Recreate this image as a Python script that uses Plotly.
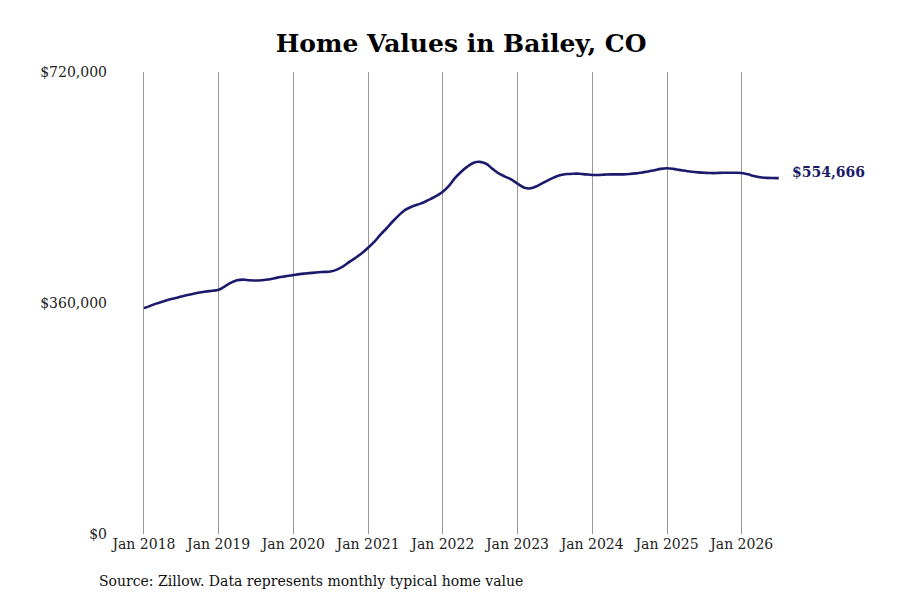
import pandas as pd
import plotly.graph_objects as go

# monthly typical home value, Bailey CO
months = pd.date_range("2018-01-01", "2026-07-01", freq="MS")
values = [
    352000, 355500, 359000, 362000, 365000, 367500, 370000, 372500, 374500, 376500, 378000, 379000,
    380500, 386000, 391500, 395500, 396500, 395500, 395000, 395500, 396500, 398500, 400500, 402000,
    403500, 405000, 406000, 407000, 408000, 408500, 409000, 412000, 417000, 424000, 430500, 437500,
    446000, 455500, 466000, 476500, 487000, 497000, 505000, 510000, 513500, 517000, 522000, 527000,
    533500, 543000, 554500, 564500, 572500, 578500, 580000, 577000, 569000, 562000, 557000, 552500,
    546000, 540000, 538500, 541500, 546500, 551500, 556000, 559500, 561000, 561500, 561500, 560500,
    559500, 559500, 560000, 560500, 560500, 560500, 561000, 562000, 563500, 565000, 567000, 569000,
    570000, 569000, 567500, 566000, 564500, 563500, 563000, 562500, 562500, 563000, 563000, 563000,
    562500, 560500, 558000, 556000, 555000, 554700, 554666,
]
ytick_vals = [0, 360000, 720000]
ytick_text = ["$0", "$360,000", "$720,000"]
last_label = "$554,666"
source_note = "Source: Zillow. Data represents monthly typical home value"

serif = "DejaVu Serif"
navy = "#1b1a6b"

fig = go.Figure()
fig.add_trace(go.Scatter(x=months, y=values, mode="lines",
                         line=dict(color=navy, width=2.6, shape="spline"),
                         hoverinfo="skip", showlegend=False))

# value label at the end of the line
fig.add_annotation(x=months[-1], y=values[-1], text="<b>" + last_label + "</b>",
                   showarrow=False, xanchor="left", xshift=11, yshift=6,
                   font=dict(family=serif, size=14, color=navy))

# source line under the chart
fig.add_annotation(xref="paper", yref="paper", x=-0.022, y=-0.1017,
                   xanchor="left", yanchor="middle", text=source_note,
                   showarrow=False, font=dict(family=serif, size=14, color="#111"))

# page has an 8px body margin, so the figure is 892x592
fig.update_layout(
    width=892, height=592,
    paper_bgcolor="white", plot_bgcolor="white",
    margin=dict(l=104, r=110, t=64, b=66),
    title=dict(text="<b>Home Values in Bailey, CO</b>", x=0.508, xanchor="center",
               y=0.941, yanchor="middle",
               font=dict(family=serif, size=25, color="#000")),
    font=dict(family=serif, size=14, color="#222"),
)
fig.update_xaxes(range=["2017-07-29", "2026-08-25"], tickformat="%b %Y",
                 tick0="2018-01-01", dtick="M12",
                 showgrid=True, gridcolor="#999", gridwidth=1,
                 showline=False, zeroline=False, ticks="",
                 tickfont=dict(family=serif, size=14, color="#222"))
fig.update_yaxes(range=[0, 720000], tickvals=ytick_vals, ticktext=ytick_text,
                 showgrid=False, zeroline=False, showline=False, ticks="",
                 ticklabelstandoff=4,
                 tickfont=dict(family=serif, size=14, color="#222"))

fig.write_html("out.html")
